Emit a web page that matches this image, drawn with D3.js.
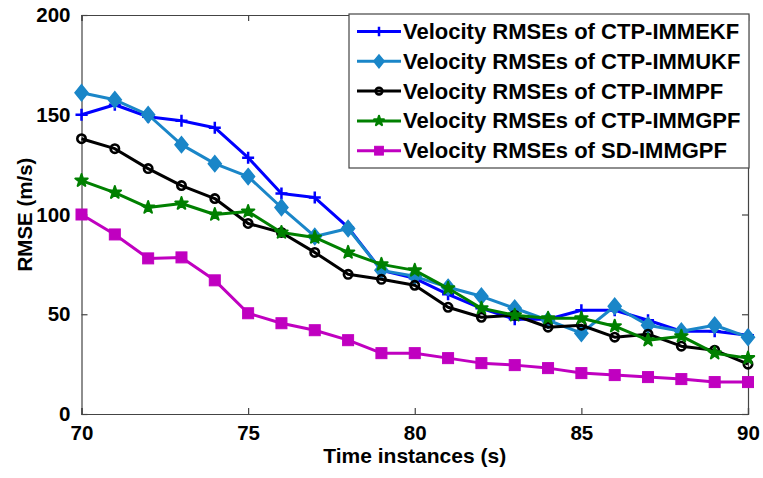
<!DOCTYPE html>
<html>
<head>
<meta charset="utf-8">
<script src="https://cdn.jsdelivr.net/npm/d3@7"></script>
<style>
  body { margin: 0; background: #fff; }
  text { font-family: "Liberation Sans", Arial, sans-serif; font-weight: bold; }
</style>
</head>
<body>
<svg id="canvas" width="763" height="478"></svg>
<script>
// time instances (s)
let times = d3.range(70, 91)

// velocity RMSE values (m/s)
let ekf = [150, 155, 149, 147, 143.5, 128.5, 110.5, 108.5, 93.5, 72, 68, 60, 53, 47.5, 47.5, 52, 52, 47, 41.5, 41.5, 39.5]
let ukf = [161, 157.5, 150, 135, 125.5, 119, 103.5, 89, 93, 72, 69, 63.5, 59, 53, 47, 40.5, 54, 44.5, 41.5, 44.5, 38.5]
let pf = [138, 133, 123, 114.5, 108, 95.5, 91, 81, 70, 67.5, 64.5, 53.5, 48.5, 49.5, 43.5, 44.5, 38.5, 40, 34, 32, 25]
let gpf = [117, 111, 103.5, 105.5, 100, 101.5, 91, 88.5, 81, 75, 72, 63, 53, 49.5, 48, 48, 44, 37, 39, 30.5, 28]
let sdgpf = [100, 90, 78, 78.5, 67, 50.5, 45.5, 42, 37, 30.5, 30.5, 28, 25.5, 24.5, 23, 20.5, 19.5, 18.5, 17.5, 16, 16]

let seriesNames = ['Velocity RMSEs of CTP-IMMEKF', 'Velocity RMSEs of CTP-IMMUKF', 'Velocity RMSEs of CTP-IMMPF', 'Velocity RMSEs of CTP-IMMGPF', 'Velocity RMSEs of SD-IMMGPF']
let seriesValues = [ekf, ukf, pf, gpf, sdgpf]
let seriesColors = ['#0000ff', '#1a86c8', '#000000', '#008000', '#c000c0']
let seriesMarkers = ['plus', 'diamond', 'circle', 'star', 'square']

let xTicks = [70, 75, 80, 85, 90]
let yTicks = [0, 50, 100, 150, 200]

let canvas = d3.select('#canvas')

let plotLeft = 81.5, plotRight = 748, plotTop = 15, plotBottom = 414

let xScale = d3.scaleLinear().domain([70, 90]).range([plotLeft, plotRight])
let yScale = d3.scaleLinear().domain([0, 200]).range([plotBottom, plotTop])

// marker drawing
let drawMarker = (g, type, color, k) => {
    k = k || 1
    if (type === 'plus') {
        g.append('path')
            .attr('d', `M${-6 * k},0H${6 * k}M0,${-6 * k}V${6 * k}`)
            .attr('stroke', color).attr('stroke-width', 2.5).attr('fill', 'none')
    } else if (type === 'diamond') {
        g.append('path')
            .attr('d', `M0,${-8 * k}L${6.5 * k},0L0,${8 * k}L${-6.5 * k},0Z`)
            .attr('fill', color).attr('stroke', color).attr('stroke-width', 1.5)
    } else if (type === 'circle') {
        g.append('circle').attr('r', 4.2 * k)
            .attr('fill', 'none').attr('stroke', color).attr('stroke-width', 2.6)
    } else if (type === 'star') {
        g.append('path')
            .attr('d', d3.symbol().type(d3.symbolStar).size(48 * k * k)())
            .attr('fill', color).attr('stroke', color).attr('stroke-width', 2)
            .attr('stroke-linejoin', 'round')
    } else if (type === 'square') {
        g.append('rect').attr('x', -5.5 * k).attr('y', -5.5 * k).attr('width', 11 * k).attr('height', 11 * k)
            .attr('fill', color).attr('stroke', color).attr('stroke-width', 1)
    }
}

// axes (box with inward ticks on all four sides)
let axisColor = '#444'
canvas.append('g')
    .attr('transform', `translate(0,${plotBottom})`)
    .call(d3.axisBottom(xScale).tickValues(xTicks).tickSize(-6).tickPadding(11).tickFormat(d3.format('d')))
canvas.append('g')
    .attr('transform', `translate(0,${plotTop})`)
    .call(d3.axisTop(xScale).tickValues(xTicks).tickSize(-6).tickFormat(''))
canvas.append('g')
    .attr('transform', `translate(${plotLeft},0)`)
    .call(d3.axisLeft(yScale).tickValues(yTicks).tickSize(-6).tickPadding(11).tickFormat(d3.format('d')))
canvas.append('g')
    .attr('transform', `translate(${plotRight},0)`)
    .call(d3.axisRight(yScale).tickValues(yTicks).tickSize(-6).tickFormat(''))

canvas.selectAll('.domain').attr('stroke', axisColor).attr('stroke-width', 1.2)
canvas.selectAll('.tick line').attr('stroke', axisColor).attr('stroke-width', 1.2)
canvas.selectAll('.tick text')
    .attr('font-size', 20.5).attr('fill', '#000')
    .style('font-family', '"Liberation Sans", Arial, sans-serif').style('font-weight', 'bold')

// series lines and markers
let line = d3.line()
    .x((d, i) => xScale(times[i]))
    .y(d => yScale(d))

seriesValues.forEach((vals, s) => {
    canvas.append('path')
        .datum(vals)
        .attr('d', line)
        .attr('fill', 'none')
        .attr('stroke', seriesColors[s])
        .attr('stroke-width', 3)
        .attr('stroke-linejoin', 'round')
    vals.forEach((v, i) => {
        let g = canvas.append('g').attr('transform', `translate(${xScale(times[i])},${yScale(v)})`)
        drawMarker(g, seriesMarkers[s], seriesColors[s])
    })
})

// axis titles
canvas.append('text')
    .attr('x', (plotLeft + plotRight) / 2).attr('y', 463)
    .attr('text-anchor', 'middle').attr('font-size', 21)
    .text('Time instances (s)')

canvas.append('text')
    .attr('transform', `translate(32,${(plotTop + plotBottom) / 2}) rotate(-90)`)
    .attr('text-anchor', 'middle').attr('font-size', 20.5)
    .text('RMSE (m/s)')

// legend
let legend = canvas.append('g')
legend.append('rect')
    .attr('x', 349).attr('y', 14).attr('width', 400).attr('height', 154)
    .attr('fill', '#fff').attr('stroke', axisColor).attr('stroke-width', 1.2)

seriesNames.forEach((name, s) => {
    let cy = 31.5 + s * 29.8
    legend.append('line')
        .attr('x1', 357).attr('x2', 401).attr('y1', cy).attr('y2', cy)
        .attr('stroke', seriesColors[s]).attr('stroke-width', 3)
    let g = legend.append('g').attr('transform', `translate(379,${cy})`)
    drawMarker(g, seriesMarkers[s], seriesColors[s], 0.8)
    legend.append('text')
        .attr('x', 403).attr('y', cy + 7.5)
        .attr('font-size', 22)
        .text(name)
})
</script>
</body>
</html>
